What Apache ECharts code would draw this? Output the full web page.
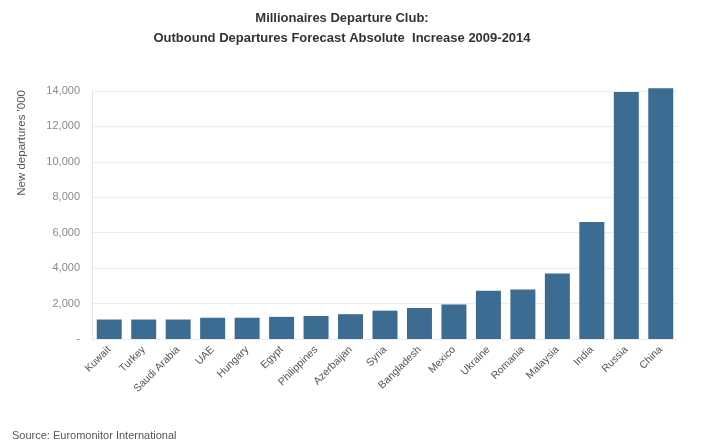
<!DOCTYPE html>
<html>
<head>
<meta charset="utf-8">
<script src="https://cdn.jsdelivr.net/npm/echarts@6/dist/echarts.min.js"></script>
<style>
  html, body { margin: 0; padding: 0; background: #fff; }
  #chart { width: 703px; height: 448px; }
</style>
</head>
<body>
<div id="chart"></div>
<script>
// data
const countries = ["Kuwait", "Turkey", "Saudi Arabia", "UAE", "Hungary", "Egypt", "Philippines",
  "Azerbaijan", "Syria", "Bangladesh", "Mexico", "Ukraine", "Romania", "Malaysia", "India", "Russia", "China"];
const increase = [1100, 1100, 1100, 1200, 1200, 1250, 1300, 1400, 1600, 1750, 1950, 2730, 2800, 3700, 6600, 13950, 14150];
const yTicks = [0, 2000, 4000, 6000, 8000, 10000, 12000, 14000];

const chart = echarts.init(document.getElementById("chart"));
const font = "Liberation Sans, Arial, sans-serif";

chart.setOption({
  animation: false,
  title: {
    text: "Millionaires Departure Club:\nOutbound Departures Forecast Absolute  Increase 2009-2014",
    left: 337,
    textAlign: "center",
    top: 3,
    textStyle: {
      fontFamily: font,
      fontSize: 13,
      fontWeight: "bold",
      color: "#333",
      lineHeight: 20
    }
  },
  grid: {
    left: 92,
    right: 25,
    top: 91,
    bottom: 109,
    containLabel: false
  },
  xAxis: {
    type: "category",
    data: countries,
    axisTick: { show: false },
    axisLine: { show: false },
    axisLabel: {
      rotate: 45,
      interval: 0,
      margin: 9,
      color: "#555",
      fontFamily: font,
      fontSize: 10.5
    }
  },
  yAxis: {
    type: "value",
    min: yTicks[0],
    max: yTicks[yTicks.length - 1],
    interval: 2000,
    axisTick: { show: false },
    axisLine: { show: true, lineStyle: { color: "#e4e4e4" } },
    splitLine: { lineStyle: { color: "#ececec" } },
    axisLabel: {
      color: "#8a8a8a",
      fontFamily: font,
      fontSize: 11,
      margin: 12,
      formatter: function (v) {
        return v === 0 ? "-" : v.toLocaleString("en-US");
      }
    }
  },
  graphic: [
    {
      type: "text",
      left: 16,
      top: 90,
      rotation: Math.PI / 2,
      style: {
        text: "New departures '000",
        fill: "#555",
        font: "11.5px " + font
      }
    },
    {
      type: "text",
      left: 12,
      top: 430,
      style: {
        text: "Source: Euromonitor International",
        fill: "#555",
        font: "11px " + font
      }
    }
  ],
  series: [
    {
      type: "bar",
      data: increase,
      barWidth: 25,
      clip: false,
      itemStyle: { color: "#3d6c92" }
    }
  ]
});
</script>
</body>
</html>
